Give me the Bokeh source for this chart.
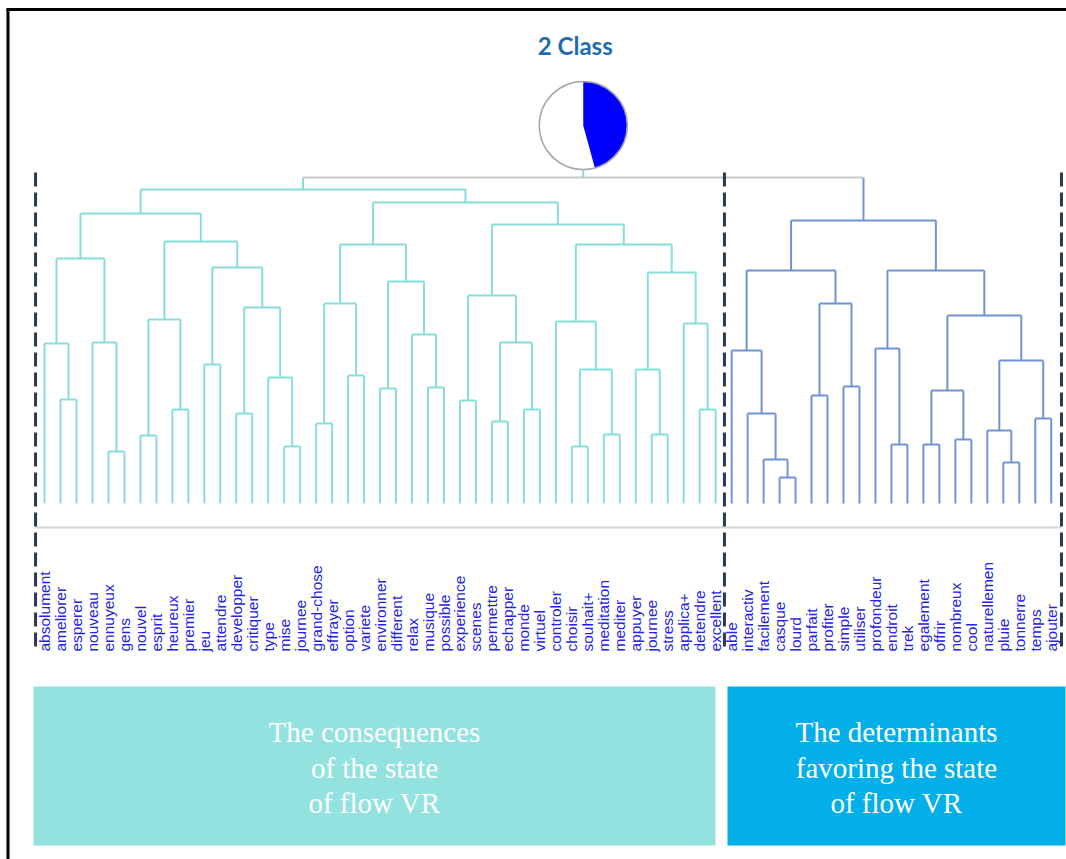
import math
from bokeh.plotting import figure
from bokeh.models import Range1d, ColumnDataSource
from bokeh.core.properties import value
from bokeh.embed import file_html
from bokeh.resources import INLINE

# ---------------- data ----------------
title_text = "2 Class"

leaf_labels = [
    "absolument", "ameliorer", "esperer", "nouveau", "ennuyeux", "gens", "nouvel",
    "esprit", "heureux", "premier", "jeu", "attendre", "developper", "critiquer",
    "type", "mise", "journee", "grand-chose", "effrayer", "option", "variete",
    "environner", "different", "relax", "musique", "possible", "experience",
    "scenes", "permettre", "echapper", "monde", "virtuel", "controler", "choisir",
    "souhait+", "meditation", "mediter", "appuyer", "journee", "stress", "applica+",
    "detendre", "excellent",
    "able", "interactiv", "facilement", "casque", "lourd", "parfait", "profiter",
    "simple", "utiliser", "profondeur", "endroit", "trek", "egalement", "offrir",
    "nombreux", "cool", "naturellemen", "pluie", "tonnerre", "temps", "ajouter",
]
class_sizes = [43, 21]
class_share = [0.5425, 0.4575]   # white part, blue part of the class pie

# linkage (scipy style): ids < 64 are leaves, id 64+k is merge k
merge_a = [1, 0, 4, 3, 65, 6, 8, 69, 10, 12, 15, 14, 73, 72, 71, 68,
           17, 19, 80, 21, 24, 23, 83, 82, 26, 28, 30, 89, 88, 33, 35, 93,
           32, 38, 37, 41, 40, 98, 96, 92, 87, 79,
           46, 45, 44, 43, 48, 50, 110, 109, 53, 52, 55, 57, 116, 60, 59, 62,
           120, 118, 115, 113, 105]
merge_b = [2, 64, 5, 66, 67, 7, 9, 70, 11, 13, 16, 74, 75, 76, 77, 78,
           18, 20, 81, 22, 25, 84, 85, 86, 27, 29, 31, 90, 91, 34, 36, 94,
           95, 39, 97, 42, 99, 100, 101, 102, 103, 104,
           47, 106, 107, 108, 49, 51, 111, 112, 54, 114, 56, 58, 117, 61, 119, 63,
           121, 122, 123, 124, 125]
merge_h = [1.04, 1.60, 0.52, 1.61, 2.45, 0.68, 0.94, 1.84, 1.39, 0.90, 0.57, 1.26,
           1.96, 2.36, 2.62, 2.90, 0.80, 1.28, 2.00, 1.15, 1.16, 1.69, 2.22, 2.59,
           1.03, 0.82, 0.94, 1.61, 2.08, 0.57, 0.69, 1.34, 1.82, 0.69, 1.34, 0.94,
           1.80, 2.31, 2.59, 2.79, 3.01, 3.14,
           0.26, 0.44, 0.90, 1.53, 1.08, 1.17, 2.00, 2.33, 0.59, 1.55, 0.59, 0.64,
           1.13, 0.41, 0.73, 0.85, 1.43, 1.88, 2.33, 2.83, 3.26]

box_lines_left = ["The consequences", "of the state", "of flow VR"]
box_lines_right = ["The determinants", "favoring the state", "of flow VR"]

# ---------------- styles / layout ----------------
W, H = 1066, 859
X0, Y0 = 0, 0                       # page offset of the figure
LEAF0_PX, LEAF_STEP_PX = 44, 15.98  # where leaf 0 sits, leaf spacing
BASE_PX, H_UNIT_PX = 503, 100       # screen y of height 0, px per height unit
LABEL_PX = 651
PIE_Y_PX, PIE_R = 125, 44
C_LEFT, C_RIGHT, C_ROOT = "#86dedb", "#7093d8", "#c8c8c8"
LABEL_COLOR = "#2424e0"
DASH_COLOR = "#2b3a52"

p = figure(width=W, height=H, x_range=Range1d(X0, X0 + W), y_range=Range1d(Y0 + H, Y0),
           output_backend="svg", toolbar_location=None, min_border=0,
           x_axis_location=None, y_axis_location=None)
p.grid.visible = False
p.outline_line_color = None
p.background_fill_color = "white"

p.extra_x_ranges = {"lx": Range1d((X0 - LEAF0_PX) / LEAF_STEP_PX,
                                   (X0 + W - LEAF0_PX) / LEAF_STEP_PX)}
p.extra_y_ranges = {"hy": Range1d((BASE_PX - (Y0 + H)) / H_UNIT_PX,
                                   (BASE_PX - Y0) / H_UNIT_PX)}

# ---------------- dendrogram layout ----------------
n = len(leaf_labels)
nx = {i: float(i) for i in range(n)}
nh = {i: 0.0 for i in range(n)}
leaves_of = {i: {i} for i in range(n)}
for k, (a, b, h) in enumerate(zip(merge_a, merge_b, merge_h)):
    nid = n + k
    nx[nid] = (nx[a] + nx[b]) / 2
    nh[nid] = h
    leaves_of[nid] = leaves_of[a] | leaves_of[b]


def color_of(node):
    return C_LEFT if max(leaves_of[node]) < class_sizes[0] else C_RIGHT


seg = dict(x0=[], y0=[], x1=[], y1=[], c=[])


def add(x0, y0, x1, y1, c):
    seg["x0"].append(x0); seg["y0"].append(y0)
    seg["x1"].append(x1); seg["y1"].append(y1); seg["c"].append(c)


root = n + len(merge_h) - 1
for k, (a, b, h) in enumerate(zip(merge_a, merge_b, merge_h)):
    nid = n + k
    if nid == root:
        add(nx[a], nh[a], nx[a], h, color_of(a))
        add(nx[b], nh[b], nx[b], h, color_of(b))
        add(nx[a], h, nx[b], h, C_ROOT)
    else:
        c = color_of(nid)
        add(nx[a], nh[a], nx[a], h, c)
        add(nx[b], nh[b], nx[b], h, c)
        add(nx[a], h, nx[b], h, c)

# baseline under leaves
lo = -0.56
mid = class_sizes[0] - 1 + 0.55
hi = n - 1 + 0.64
p.segment(x0=[lo], x1=[hi], y0=[527], y1=[527], x_range_name="lx",
          line_color="#d6d6d6", line_width=2)

p.segment(x0="x0", y0="y0", x1="x1", y1="y1", line_color="c", line_width=2,
          source=ColumnDataSource(seg), x_range_name="lx", y_range_name="hy")

# link from root to pie
p.segment(x0=[nx[root]], x1=[nx[root]], y0=[nh[root]],
          y1=[(BASE_PX - PIE_Y_PX) / H_UNIT_PX], line_color=C_LEFT, line_width=2,
          x_range_name="lx", y_range_name="hy")

# cluster boundaries (dashed)
p.segment(x0=[lo, mid, hi], x1=[lo, mid, hi], y0=[172] * 3, y1=[651] * 3,
          x_range_name="lx", line_color=DASH_COLOR, line_width=3, line_dash="14 6")

# leaf labels
p.text(x=list(range(n)), y=[LABEL_PX] * n, text=leaf_labels, angle=math.pi / 2,
       x_range_name="lx", text_align="left", text_baseline="middle",
       text_font=value("Liberation Sans"), text_font_size="15.5px",
       text_color=LABEL_COLOR)

# pie
pie_y = (BASE_PX - PIE_Y_PX) / H_UNIT_PX
blue_span = class_share[1] * 2 * math.pi
p.wedge(x=[nx[root]], y=[pie_y], radius=PIE_R, radius_units="screen",
        start_angle=math.pi / 2, end_angle=math.pi / 2 + class_share[0] * 2 * math.pi,
        fill_color="white", line_color=None, x_range_name="lx", y_range_name="hy")
p.wedge(x=[nx[root]], y=[pie_y], radius=PIE_R, radius_units="screen",
        start_angle=math.pi / 2 - blue_span, end_angle=math.pi / 2,
        fill_color="#0000ff", line_color=None, x_range_name="lx", y_range_name="hy")
p.scatter(x=[nx[root]], y=[pie_y], size=2 * PIE_R, marker="circle",
          fill_color=None, line_color="#a8a8a8", line_width=1.5,
          x_range_name="lx", y_range_name="hy")

# title
p.text(x=[nx[root] - 0.5], y=[45], text=[title_text], x_range_name="lx",
       text_align="center", text_baseline="middle",
       text_font=value("Lato"), text_font_style="bold", text_font_size="24px",
       text_color="#1f6db0")

# boxes
p.quad(left=[33, 727], right=[715, 1065], top=[686, 686], bottom=[845, 845],
       fill_color=["#93e2df", "#02afe8"], line_color=None)
bx = [374] * 3 + [896] * 3
by = [731, 767, 802] * 2
p.text(x=bx, y=by, text=box_lines_left + box_lines_right, text_align="center",
       text_baseline="middle", text_font=value("Liberation Serif"),
       text_font_size="29px", text_color="white")

# image frame (top and left)
p.segment(x0=[6, 7.5], x1=[W, 7.5], y0=[9, 8], y1=[9, H],
          line_color="black", line_width=3)

open("out.html", "w").write(file_html(p, INLINE))
